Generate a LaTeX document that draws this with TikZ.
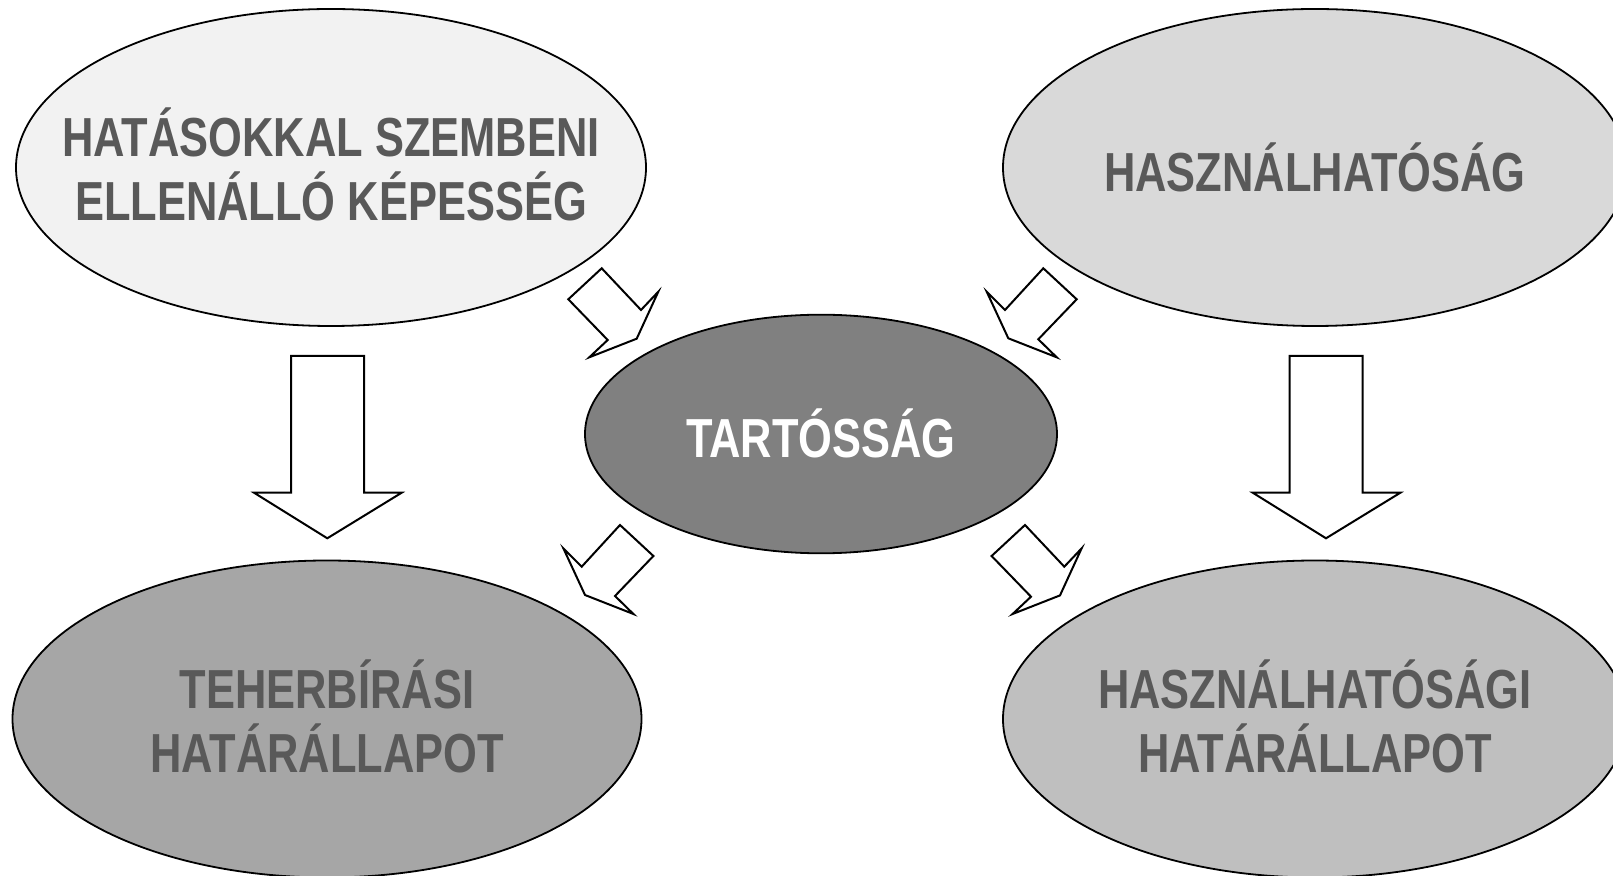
\documentclass[tikz,border=0pt]{standalone}
\usepackage{fontspec}
\setmainfont{Liberation Sans}
\newfontfamily\narrowfont{Liberation Sans}[FakeStretch=0.79]
\usetikzlibrary{shapes.geometric}
\definecolor{txtgray}{HTML}{595959}
\definecolor{fillTL}{HTML}{F2F2F2}
\definecolor{fillTR}{HTML}{D9D9D9}
\definecolor{fillC}{HTML}{808080}
\definecolor{fillBL}{HTML}{A6A6A6}
\definecolor{fillBR}{HTML}{BFBFBF}
\tikzset{
  oval/.style={ellipse, draw=black, line width=0.9pt, inner sep=0pt},
  lbl/.style={align=center, inner sep=0pt, text=txtgray,
    font={\narrowfont\bfseries\fontsize{27.5pt}{32pt}\selectfont}},
  blockarrow/.style={draw=black, line width=1pt, fill=white, line join=miter}
}
\begin{document}
\begin{tikzpicture}[x=0.5pt,y=-0.5pt]
\useasboundingbox (0,0) rectangle (1613,876);
\clip (0,0) rectangle (1613,876);
\fill[white] (0,0) rectangle (1613,876);

% ellipses
\node[oval, fill=fillTL, minimum width=315pt, minimum height=158.5pt] (tl) at (331,167.5) {};
\node[oval, fill=fillTR, minimum width=312pt, minimum height=158.5pt] (tr) at (1315,167.5) {};
\node[oval, fill=fillC, minimum width=236pt, minimum height=119.3pt] (c) at (821,434) {};
\node[oval, fill=fillBL, minimum width=314.5pt, minimum height=158.5pt] (bl) at (327,719) {};
\node[oval, fill=fillBR, minimum width=312pt, minimum height=158.5pt] (br) at (1315,719) {};

% labels
\node[lbl] (tltext) at ([yshift=1.5pt]tl.center) {HATÁSOKKAL SZEMBENI\\ELLENÁLLÓ KÉPESSÉG};
\node[lbl] (trtext) at ([yshift=0pt]tr.center) {HASZNÁLHATÓSÁG};
\node[lbl, text=white] (ctext) at ([yshift=0.5pt]c.center) {TARTÓSSÁG};
\node[lbl] (bltext) at ([yshift=1.5pt]bl.center) {TEHERBÍRÁSI\\HATÁRÁLLAPOT};
\node[lbl] (brtext) at ([yshift=1.5pt]br.center) {HASZNÁLHATÓSÁGI\\HATÁRÁLLAPOT};

% vertical block arrows
\draw[blockarrow] (291,356) -- (364,356) -- (364,492.7) -- (401.7,492.7)
  -- (327.3,538.3) -- (254,492.7) -- (291,492.7) -- cycle;
\draw[blockarrow] (1289.7,356) -- (1362.7,356) -- (1362.7,492.7) -- (1400.4,492.7)
  -- (1326,538.3) -- (1252.7,492.7) -- (1289.7,492.7) -- cycle;

% diagonal block arrows
\draw[blockarrow] (601.7,268.3) -- (641,310) -- (658.3,291.7) -- (636.7,338.7)
  -- (589.3,357.3) -- (607.7,340) -- (568.3,299.3) -- cycle;
\draw[blockarrow] (1043.3,268.3) -- (1076.7,299.3) -- (1038.3,339.3) -- (1056.7,357.3)
  -- (1008.3,338.3) -- (986.7,291.7) -- (1005,310) -- cycle;
\draw[blockarrow] (620,525) -- (653.4,556) -- (615,596) -- (633.4,614)
  -- (585,595) -- (563.4,548.4) -- (581.7,566.7) -- cycle;
\draw[blockarrow] (1025,525) -- (1064.3,566.7) -- (1081.6,548.4) -- (1060,595.4)
  -- (1012.6,614) -- (1031,596.7) -- (991.6,556) -- cycle;
\end{tikzpicture}
\end{document}
